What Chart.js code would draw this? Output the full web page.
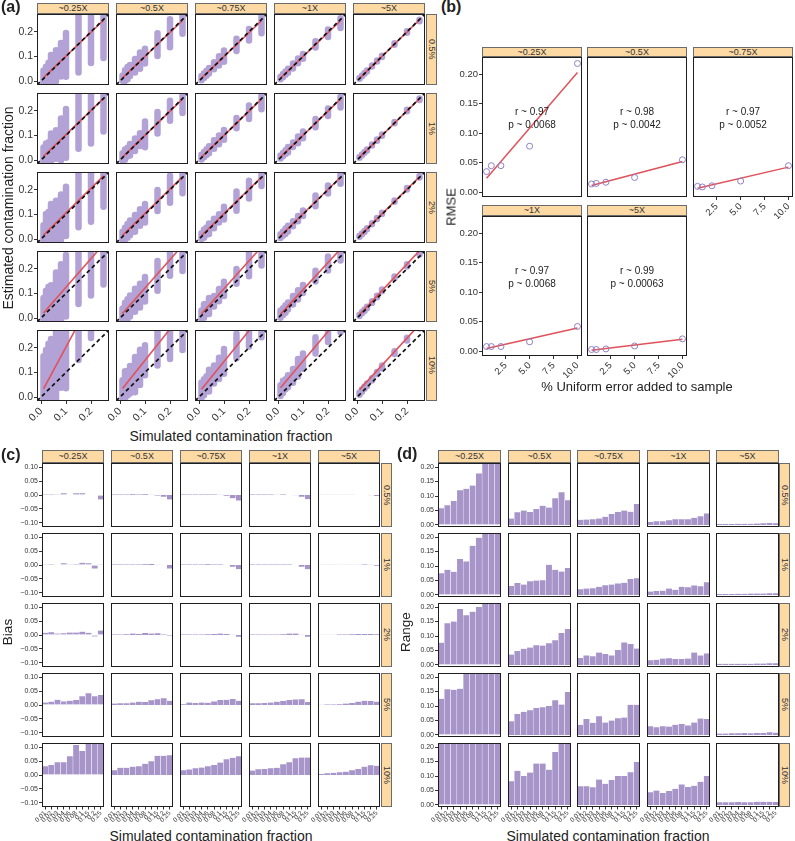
<!DOCTYPE html>
<html>
<head>
<meta charset="utf-8">
<script src="https://cdn.jsdelivr.net/npm/chart.js@4.4.1/dist/chart.umd.min.js"></script>
<style>
  body { margin: 0; background: #fff; }
  #fig { position: relative; width: 795px; height: 841px; overflow: hidden; font-family: "Liberation Sans", Arial, sans-serif; color: #222; }
  #fig canvas { position: absolute; }
  .lbl { position: absolute; white-space: nowrap; line-height: 1; }
  .tag { font-weight: bold; }
  .strip { position: absolute; box-sizing: border-box; background: #fdd9a4; border: 1px solid #6b6b6b; color: #333; font-size: 9px; display: flex; align-items: center; justify-content: center; line-height: 1; }
  .strip.v { writing-mode: vertical-rl; }
  .rot { transform: translate(-50%, -50%) rotate(-90deg); }
  .ctr { transform: translate(-50%, -50%); }
</style>
</head>
<body>
<div id="fig"></div>
<script>
// facets
const coverage = ['~0.25X', '~0.5X', '~0.75X', '~1X', '~5X'];
const errorLevels = ['0.5%', '1%', '2%', '5%', '10%'];

// simulated contamination fractions (x of a, categories of c/d)
const fractions = [0.01, 0.02, 0.03, 0.04, 0.06, 0.08, 0.1, 0.15, 0.2, 0.25];
const fractionLabels = ['0.01', '0.02', '0.03', '0.04', '0.06', '0.08', '0.1', '0.15', '0.2', '0.25'];

// bias per error level, one row per coverage
const bias05 = [
  [0.004, 0.004, 0.003, 0.006, 0.002, 0.006, 0.006, 0.000, -0.002, -0.016],
  [0.002, 0.002, 0.002, 0.003, 0.002, 0.003, 0.001, -0.002, -0.006, -0.016],
  [0.002, 0.002, 0.002, 0.002, 0.002, 0.002, 0.001, -0.003, -0.012, -0.020],
  [0.002, 0.002, 0.002, 0.002, 0.001, 0.002, 0.000, -0.001, -0.006, -0.015],
  [0.001, 0.001, 0.001, 0.001, 0.001, 0.001, 0.000, 0.000, -0.001, -0.004]
];
const bias1 = [
  [0.003, 0.004, 0.002, 0.006, 0.003, 0.004, 0.008, 0.006, -0.013, 0.001],
  [0.002, 0.002, 0.002, 0.002, 0.002, 0.003, 0.004, 0.001, 0.000, -0.013],
  [0.002, 0.002, 0.002, 0.002, 0.003, 0.002, 0.002, 0.000, -0.006, -0.015],
  [0.002, 0.002, 0.002, 0.002, 0.002, 0.002, 0.002, 0.000, -0.006, -0.015],
  [0.001, 0.001, 0.001, 0.001, 0.001, 0.001, 0.001, 0.002, 0.001, -0.003]
];
const bias2 = [
  [0.008, 0.010, 0.005, 0.006, 0.009, 0.009, 0.012, 0.008, -0.005, 0.016],
  [0.002, 0.002, 0.003, 0.005, 0.004, 0.007, 0.005, 0.006, 0.002, -0.002],
  [0.002, 0.002, 0.002, 0.002, 0.003, 0.004, 0.005, 0.004, 0.001, -0.006],
  [0.002, 0.002, 0.002, 0.002, 0.002, 0.003, 0.005, 0.005, 0.001, -0.006],
  [0.001, 0.001, 0.001, 0.002, 0.002, 0.003, 0.004, 0.004, 0.004, 0.003]
];
const bias5 = [
  [0.009, 0.012, 0.019, 0.013, 0.015, 0.018, 0.031, 0.042, 0.031, 0.036],
  [0.005, 0.006, 0.006, 0.009, 0.012, 0.011, 0.017, 0.021, 0.024, 0.015],
  [0.003, 0.009, 0.007, 0.009, 0.008, 0.013, 0.018, 0.019, 0.022, 0.015],
  [0.006, 0.006, 0.007, 0.009, 0.012, 0.014, 0.018, 0.020, 0.021, 0.011],
  [0.001, 0.002, 0.002, 0.003, 0.005, 0.007, 0.012, 0.015, 0.014, 0.012]
];
const bias10 = [
  [0.031, 0.036, 0.046, 0.046, 0.067, 0.108, 0.086, 0.150, 0.190, 0.240],
  [0.017, 0.026, 0.026, 0.030, 0.031, 0.040, 0.049, 0.069, 0.069, 0.071],
  [0.017, 0.020, 0.024, 0.027, 0.031, 0.036, 0.045, 0.057, 0.062, 0.067],
  [0.016, 0.021, 0.022, 0.024, 0.026, 0.039, 0.046, 0.060, 0.063, 0.063],
  [0.004, 0.006, 0.008, 0.010, 0.012, 0.017, 0.022, 0.030, 0.035, 0.033]
];

// range of estimates per error level, one row per coverage
const range05 = [
  [0.058, 0.068, 0.083, 0.120, 0.125, 0.136, 0.178, 0.230, 0.250, 0.280],
  [0.022, 0.044, 0.050, 0.045, 0.055, 0.066, 0.060, 0.092, 0.113, 0.085],
  [0.018, 0.019, 0.020, 0.022, 0.028, 0.038, 0.045, 0.050, 0.046, 0.072],
  [0.010, 0.013, 0.013, 0.016, 0.020, 0.020, 0.020, 0.025, 0.030, 0.040],
  [0.003, 0.003, 0.003, 0.004, 0.004, 0.004, 0.005, 0.006, 0.007, 0.006]
];
const range1 = [
  [0.075, 0.087, 0.080, 0.124, 0.116, 0.170, 0.198, 0.220, 0.240, 0.270],
  [0.031, 0.041, 0.036, 0.047, 0.050, 0.051, 0.104, 0.087, 0.081, 0.093],
  [0.020, 0.022, 0.023, 0.028, 0.034, 0.036, 0.040, 0.042, 0.055, 0.058],
  [0.012, 0.014, 0.015, 0.022, 0.018, 0.028, 0.027, 0.033, 0.030, 0.044],
  [0.003, 0.003, 0.003, 0.004, 0.004, 0.005, 0.005, 0.005, 0.006, 0.006]
];
const range2 = [
  [0.077, 0.144, 0.150, 0.193, 0.172, 0.184, 0.200, 0.220, 0.250, 0.270],
  [0.036, 0.048, 0.056, 0.060, 0.068, 0.067, 0.075, 0.085, 0.110, 0.124],
  [0.024, 0.033, 0.030, 0.043, 0.038, 0.033, 0.052, 0.078, 0.072, 0.057],
  [0.016, 0.018, 0.022, 0.023, 0.021, 0.021, 0.022, 0.043, 0.033, 0.040],
  [0.004, 0.004, 0.004, 0.004, 0.004, 0.004, 0.005, 0.005, 0.006, 0.006]
];
const range5 = [
  [0.125, 0.158, 0.156, 0.160, 0.220, 0.240, 0.250, 0.270, 0.280, 0.300],
  [0.047, 0.072, 0.080, 0.085, 0.093, 0.096, 0.100, 0.120, 0.105, 0.148],
  [0.035, 0.055, 0.042, 0.065, 0.043, 0.050, 0.058, 0.060, 0.104, 0.104],
  [0.030, 0.027, 0.030, 0.029, 0.035, 0.038, 0.033, 0.043, 0.057, 0.055],
  [0.005, 0.005, 0.006, 0.006, 0.007, 0.006, 0.007, 0.007, 0.009, 0.008]
];
const range10 = [
  [0.250, 0.270, 0.280, 0.300, 0.300, 0.300, 0.300, 0.300, 0.300, 0.300],
  [0.082, 0.118, 0.100, 0.112, 0.143, 0.143, 0.122, 0.183, 0.230, 0.260],
  [0.065, 0.065, 0.061, 0.088, 0.073, 0.086, 0.100, 0.100, 0.113, 0.148],
  [0.044, 0.050, 0.041, 0.048, 0.056, 0.071, 0.062, 0.066, 0.080, 0.100],
  [0.009, 0.009, 0.009, 0.010, 0.009, 0.009, 0.011, 0.011, 0.011, 0.010]
];

// red fit lines of panel (a): [error level][coverage]
const aSlope = [
  [0.97, 0.97, 0.97, 0.97, 0.99],
  [0.98, 0.98, 0.98, 0.98, 0.99],
  [1.00, 0.99, 0.99, 0.99, 1.00],
  [1.16, 1.15, 1.13, 1.10, 1.08],
  [1.89, 1.27, 1.25, 1.20, 1.10]
];
const aIntercept = [
  [0.004, 0.003, 0.002, 0.002, 0.001],
  [0.005, 0.002, 0.002, 0.002, 0.001],
  [0.006, 0.005, 0.004, 0.003, 0.002],
  [0.009, 0.007, 0.006, 0.005, 0.003],
  [0.014, 0.022, 0.019, 0.026, 0.019]
];

// panel (b): % uniform error vs RMSE
const errorPct = [0.5, 1, 2, 5, 10];
const rmse025 = [0.035, 0.045, 0.045, 0.078, 0.218];
const rmse05 = [0.014, 0.015, 0.017, 0.025, 0.055];
const rmse075 = [0.010, 0.009, 0.011, 0.019, 0.045];
const rmse1 = [0.008, 0.008, 0.008, 0.016, 0.042];
const rmse5 = [0.003, 0.003, 0.004, 0.009, 0.021];
const rLabels = ['r ~ 0.97', 'r ~ 0.98', 'r ~ 0.97', 'r ~ 0.97', 'r ~ 0.99'];
const pLabels = ['p ~ 0.0068', 'p ~ 0.0042', 'p ~ 0.0052', 'p ~ 0.0068', 'p ~ 0.00063'];

const biasRows = [bias05, bias1, bias2, bias5, bias10];
const rangeRows = [range05, range1, range2, range5, range10];
const rmseRows = [rmse025, rmse05, rmse075, rmse1, rmse5];

const PURPLE = 'rgba(148,126,198,0.72)';
const BAR = '#a794c9';
const RED = '#e0525a';

Chart.defaults.font.family = '"Liberation Sans", Arial, sans-serif';
Chart.defaults.color = '#333';
Chart.defaults.animation = false;
Chart.defaults.events = [];
Chart.defaults.responsive = false;
Chart.defaults.maintainAspectRatio = false;
Chart.defaults.plugins.legend.display = false;
Chart.defaults.plugins.tooltip.enabled = false;

// panel border
Chart.register({
  id: 'frame',
  afterDatasetsDraw(chart) {
    const a = chart.chartArea, ctx = chart.ctx;
    ctx.save();
    ctx.strokeStyle = '#1e1e1e';
    ctx.lineWidth = 1;
    ctx.strokeRect(a.left + 0.5, a.top + 0.5, a.right - a.left - 1, a.bottom - a.top - 1);
    ctx.restore();
  }
});

const fig = document.getElementById('fig');

function text(str, x, y, cls, size) {
  const d = document.createElement('div');
  d.className = 'lbl ' + cls;
  d.textContent = str;
  d.style.left = x + 'px';
  d.style.top = y + 'px';
  d.style.fontSize = size + 'px';
  fig.appendChild(d);
}

function strip(str, x, y, w, h, vertical) {
  const d = document.createElement('div');
  d.className = 'strip' + (vertical ? ' v' : '');
  d.textContent = str;
  Object.assign(d.style, { left: x + 'px', top: y + 'px', width: w + 'px', height: h + 'px' });
  fig.appendChild(d);
}

function fixSize(size, show) {
  return s => {
    if (s.isHorizontal()) s.height = show ? size : 0;
    else s.width = show ? size : 0;
    s.paddingLeft = s.paddingRight = s.paddingTop = s.paddingBottom = 0;
  };
}

function linAxis(min, max, ticks, fmt, show, size, fontSize, rot) {
  return {
    type: 'linear', min, max,
    border: { display: false },
    grid: { display: show, drawOnChartArea: false, tickLength: 3, color: '#333' },
    ticks: { display: show, autoSkip: false, padding: 1, color: '#333',
             font: { size: fontSize }, minRotation: rot, maxRotation: rot,
             callback: v => fmt(v) },
    afterBuildTicks: s => { s.ticks = ticks.map(v => ({ value: v })); },
    afterFit: fixSize(size, show)
  };
}

function catAxis(show, size) {
  return {
    type: 'category', offset: true,
    border: { display: false },
    grid: { display: show, drawOnChartArea: false, offset: false, tickLength: 2.5, color: '#333' },
    ticks: { display: show, autoSkip: false, padding: 0, color: '#333',
             font: { size: 6.5 }, minRotation: 45, maxRotation: 45 },
    afterFit: fixSize(size, show)
  };
}

function addChart(px, py, w, h, ax, ay, padL, config) {
  const padR = 2, padT = 1, padB = 1;
  const W = w + ax + padL + padR, H = h + ay + padT + padB;
  const c = document.createElement('canvas');
  c.width = W; c.height = H;
  Object.assign(c.style, { left: (px - ax - padL) + 'px', top: (py - padT) + 'px', width: W + 'px', height: H + 'px' });
  fig.appendChild(c);
  config.options.layout = { autoPadding: false, padding: { left: padL, right: padR, top: padT, bottom: padB } };
  return new Chart(c, config);
}

function lsq(xs, ys) {
  const n = xs.length;
  const mx = xs.reduce((a, b) => a + b, 0) / n, my = ys.reduce((a, b) => a + b, 0) / n;
  let sxy = 0, sxx = 0;
  xs.forEach((x, i) => { sxy += (x - mx) * (ys[i] - my); sxx += (x - mx) * (x - mx); });
  const k = sxy / sxx;
  return [my - k * mx, k];
}

const fmt1 = v => v.toFixed(1);
const fmt2 = v => (v < 0 ? '\u2212' + Math.abs(v).toFixed(2) : v.toFixed(2));

// ---------- (a) ----------
const aCol = [37, 116, 195, 274, 353], aRow = [14, 93, 172, 251, 330], aW = 72, aH = 71;
const aMin = -0.016, aMax = 0.272;
coverage.forEach((cv, c) => strip(cv, aCol[c], 3, aW, 11));
errorLevels.forEach((e, r) => strip(e, 426, aRow[r], 11, aH, true));

for (let r = 0; r < 5; r++) {
  for (let c = 0; c < 5; c++) {
    const showY = c === 0, showX = r === 4;
    const b = biasRows[r][c], rg = rangeRows[r][c];
    const streaks = [];
    fractions.forEach((f, i) => {
      const mid = f + b[i];
      streaks.push({ x: f, y: mid - rg[i] / 2 }, { x: f, y: mid + rg[i] / 2 }, { x: f, y: null });
    });
    const x0 = fractions[0], x1 = fractions[fractions.length - 1];
    const fit = [
      { x: x0, y: aIntercept[r][c] + aSlope[r][c] * x0 },
      { x: x1, y: aIntercept[r][c] + aSlope[r][c] * x1 }
    ];
    addChart(aCol[c], aRow[r], aW, aH, showY ? 24 : 0, showX ? 24 : 0, showX && !showY ? 13 : 0, {
      type: 'scatter',
      data: { datasets: [
        { data: [{ x: aMin, y: aMin }, { x: aMax, y: aMax }], showLine: true, borderColor: '#111',
          borderWidth: 1.7, borderDash: [4, 3], pointRadius: 0, clip: 0 },
        { data: fit, showLine: true, borderColor: RED, borderWidth: 1.6, pointRadius: 0, clip: 0 },
        { data: streaks, showLine: true, spanGaps: false, borderColor: PURPLE, borderWidth: 6.5,
          borderCapStyle: 'round', pointRadius: 0, clip: 0 }
      ] },
      options: { scales: {
        x: linAxis(aMin, aMax, [0, 0.1, 0.2], fmt1, showX, 24, 10.5, 45),
        y: linAxis(aMin, aMax, [0, 0.1, 0.2], fmt1, showY, 24, 10.5, 0)
      } }
    });
  }
}
text('(a)', 1, -1, 'tag', 16);
text('Estimated contamination fraction', 8, 208, 'rot', 14);
text('Simulated contamination fraction', 231, 436, 'ctr', 14);

// ---------- (b) ----------
const bCol = [482, 587, 693], bRow = [57, 216], bW = 100, bH = 140;
const annot = {
  id: 'annot',
  afterDatasetsDraw(chart, args, opts) {
    const ctx = chart.ctx, xs = chart.scales.x, ys = chart.scales.y;
    ctx.save();
    ctx.font = '10px "Liberation Sans", Arial, sans-serif';
    ctx.fillStyle = '#222';
    ctx.textAlign = 'center';
    ctx.textBaseline = 'middle';
    ctx.fillText(opts.r, xs.getPixelForValue(5.25), ys.getPixelForValue(0.136));
    ctx.fillText(opts.p, xs.getPixelForValue(5.25), ys.getPixelForValue(0.114));
    ctx.restore();
  }
};
coverage.forEach((cv, i) => {
  const row = i < 3 ? 0 : 1, col = i % 3;
  const showY = col === 0, showX = row === 1 || i === 2;
  strip(cv, bCol[col], bRow[row] - (row === 0 ? 10 : 11), bW, row === 0 ? 10 : 11);
  const ys = rmseRows[i];
  const [b0, b1] = lsq(errorPct, ys);
  const xa = errorPct[0], xb = errorPct[errorPct.length - 1];
  addChart(bCol[col], bRow[row], bW, bH, showY ? 28 : 0, showX ? 22 : 0, 0, {
    type: 'scatter',
    data: { datasets: [
      { data: errorPct.map((x, k) => ({ x, y: ys[k] })), pointRadius: 3, pointBorderWidth: 1,
        pointBorderColor: '#8f7fc2', pointBackgroundColor: 'rgba(0,0,0,0)', clip: 0 },
      { data: [{ x: xa, y: b0 + b1 * xa }, { x: xb, y: b0 + b1 * xb }], showLine: true,
        borderColor: RED, borderWidth: 1.5, pointRadius: 0, clip: 0 }
    ] },
    options: {
      plugins: { annot: { r: rLabels[i], p: pLabels[i] } },
      scales: {
        x: linAxis(0.025, 10.475, [2.5, 5, 7.5, 10], fmt1, showX, 22, 9.5, 45),
        y: linAxis(-0.008, 0.229, [0, 0.05, 0.1, 0.15, 0.2], v => v.toFixed(2), showY, 28, 9.5, 0)
      }
    },
    plugins: [annot]
  });
});
text('(b)', 441, -1, 'tag', 16);
text('RMSE', 451, 207, 'rot', 13);
text('% Uniform error added to sample', 637, 386, 'ctr', 13);

// ---------- (c) and (d) ----------
const gRow = [463, 533, 603, 673, 743], gH = 64;
function barGrid(cols, w, stripX, rows, yMin, yMax, yTicks, yW) {
  coverage.forEach((cv, c) => strip(cv, cols[c], 450, w, 13));
  errorLevels.forEach((e, r) => strip(e, stripX, gRow[r], 11, gH, true));
  for (let r = 0; r < 5; r++) {
    for (let c = 0; c < 5; c++) {
      const showY = c === 0, showX = r === 4;
      addChart(cols[c], gRow[r], w, gH, showY ? yW : 0, showX ? 18 : 0, showX && !showY ? 8 : 0, {
        type: 'bar',
        data: { labels: fractionLabels, datasets: [{
          data: rows[r][c], backgroundColor: BAR, borderColor: 'rgba(255,255,255,0.8)',
          borderWidth: { left: 0.5, right: 0.5, top: 0, bottom: 0 },
          barPercentage: 1, categoryPercentage: 1, clip: 0
        }] },
        options: { scales: {
          x: catAxis(showX, 18),
          y: linAxis(yMin, yMax, yTicks, fmt2, showY, yW, 7, 0)
        } }
      });
    }
  }
}
barGrid([42, 111, 180, 249, 318], 62, 381, biasRows, -0.115, 0.115, [-0.1, -0.05, 0, 0.05, 0.1], 26);
barGrid([438, 508, 577, 647, 716], 63, 779, rangeRows, -0.007, 0.214, [0, 0.05, 0.1, 0.15, 0.2], 24);

text('(c)', 1, 447, 'tag', 16);
text('Bias', 8, 632, 'rot', 13.5);
text('Simulated contamination fraction', 211, 836, 'ctr', 14);
text('(d)', 397, 446, 'tag', 16);
text('Range', 406, 632, 'rot', 13.5);
text('Simulated contamination fraction', 608, 836, 'ctr', 14);
</script>
</body>
</html>
